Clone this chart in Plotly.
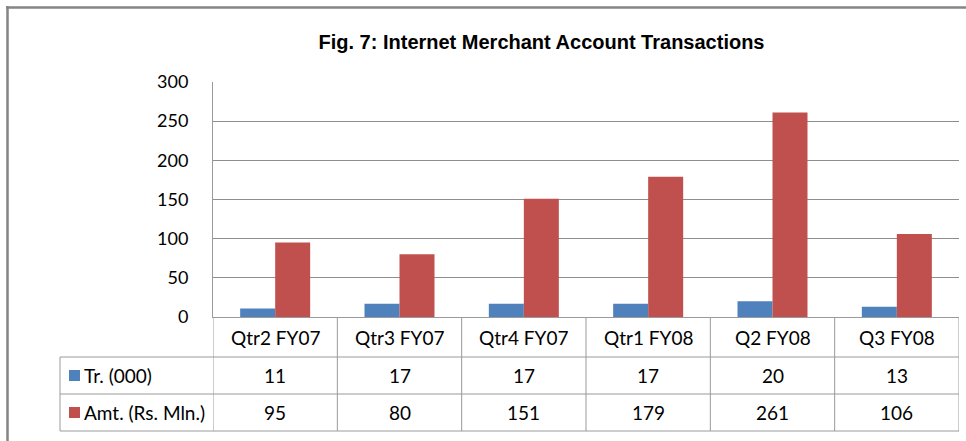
import plotly.graph_objects as go

# ---- data ----
categories = ["Qtr2 FY07", "Qtr3 FY07", "Qtr4 FY07", "Qtr1 FY08", "Q2 FY08", "Q3 FY08"]
series_names = ["Tr. (000)", "Amt. (Rs. Mln.)"]
tr_values = [11, 17, 17, 17, 20, 13]
amt_values = [95, 80, 151, 179, 261, 106]
y_ticks = [0, 50, 100, 150, 200, 250, 300]
title_text = "Fig. 7: Internet Merchant Account Transactions"

# ---- style ----
W, H = 966, 441
ML, MR, MT, MB = 213, 7, 82, 124
PW, PH = W - ML - MR, H - MT - MB
colors = ["#4F81BD", "#C0504D"]
grid_col = "#8e8e8e"
line_col = "#9a9a9a"
font_main = "Lato, Carlito, Calibri, sans-serif"


def px2x(px):
    return (px - ML) / PW


def py2y(py):
    return (H - MB - py) / PH


fig = go.Figure()
for name, vals, col in zip(series_names, [tr_values, amt_values], colors):
    fig.add_trace(go.Bar(x=list(range(len(categories))), y=vals, name=name,
                         marker=dict(color=col, line=dict(width=0)),
                         showlegend=False))

shapes = []
# outer chart border
shapes.append(dict(type="line", xref="paper", yref="paper", x0=px2x(6), x1=px2x(W + 5),
                   y0=py2y(7.5), y1=py2y(7.5), line=dict(color="#858585", width=2.5)))
shapes.append(dict(type="line", xref="paper", yref="paper", x0=px2x(7.5), x1=px2x(7.5),
                   y0=py2y(6), y1=py2y(H + 5), line=dict(color="#858585", width=2.5)))

# data table
row_lines = [357, 394, 431]
for py in row_lines:
    shapes.append(dict(type="line", xref="paper", yref="paper", x0=px2x(60), x1=1,
                       y0=py2y(py), y1=py2y(py), line=dict(color=line_col, width=1)))
shapes.append(dict(type="line", xref="paper", yref="paper", x0=px2x(60), x1=px2x(60),
                   y0=py2y(357), y1=py2y(431), line=dict(color=line_col, width=1)))
for k in range(len(categories) + 1):
    shapes.append(dict(type="line", xref="x", yref="paper", x0=k - 0.5, x1=k - 0.5,
                       y0=0, y1=py2y(431), line=dict(color=line_col, width=1)))

# legend keys
for i, col in enumerate(colors):
    cy = (row_lines[i] + row_lines[i + 1]) / 2
    shapes.append(dict(type="rect", xref="paper", yref="paper", x0=px2x(69), x1=px2x(80),
                       y0=py2y(cy + 5.5), y1=py2y(cy - 5.5), fillcolor=col,
                       line=dict(width=0)))

annotations = []
hdr_y = py2y((317 + 357) / 2)
for i, c in enumerate(categories):
    annotations.append(dict(x=i, y=hdr_y, xref="x", yref="paper", text=c, showarrow=False,
                            xanchor="center", yanchor="middle",
                            font=dict(family=font_main, size=19, color="#000")))
for r, (name, vals) in enumerate(zip(series_names, [tr_values, amt_values])):
    cy = py2y((row_lines[r] + row_lines[r + 1]) / 2)
    annotations.append(dict(x=px2x(82), y=cy, xref="paper", yref="paper", text=name,
                            showarrow=False, xanchor="left", yanchor="middle",
                            font=dict(family=font_main, size=19, color="#000")))
    for i, v in enumerate(vals):
        annotations.append(dict(x=i, y=cy, xref="x", yref="paper", text=str(v),
                                showarrow=False, xanchor="center", yanchor="middle",
                                font=dict(family=font_main, size=19, color="#000")))

fig.update_layout(
    width=W, height=H,
    margin=dict(l=ML, r=MR, t=MT, b=MB, pad=0),
    paper_bgcolor="white", plot_bgcolor="white",
    barmode="group", bargap=0.437, bargroupgap=0,
    title=dict(text="<b>" + title_text + "</b>", x=541.5 / W, xanchor="center",
               y=1 - 41.5 / H, yanchor="middle",
               font=dict(family="Liberation Sans, Arial, sans-serif", size=20, color="#000")),
    xaxis=dict(range=[-0.5, len(categories) - 0.5], showticklabels=False, showgrid=False,
               zeroline=False, showline=True, linecolor=line_col, linewidth=1, ticks=""),
    yaxis=dict(range=[0, 300], tickvals=y_ticks, showgrid=True, gridcolor=grid_col, gridwidth=1,
               zeroline=False, showline=True, linecolor=line_col, linewidth=1, ticks="",
               ticklabelstandoff=20,
               tickfont=dict(family=font_main, size=18, color="#000")),
    shapes=shapes, annotations=annotations,
)

fig.write_html("out.html", config={"displayModeBar": False},
               post_script="document.body.style.margin='0';document.body.style.overflow='hidden';")
